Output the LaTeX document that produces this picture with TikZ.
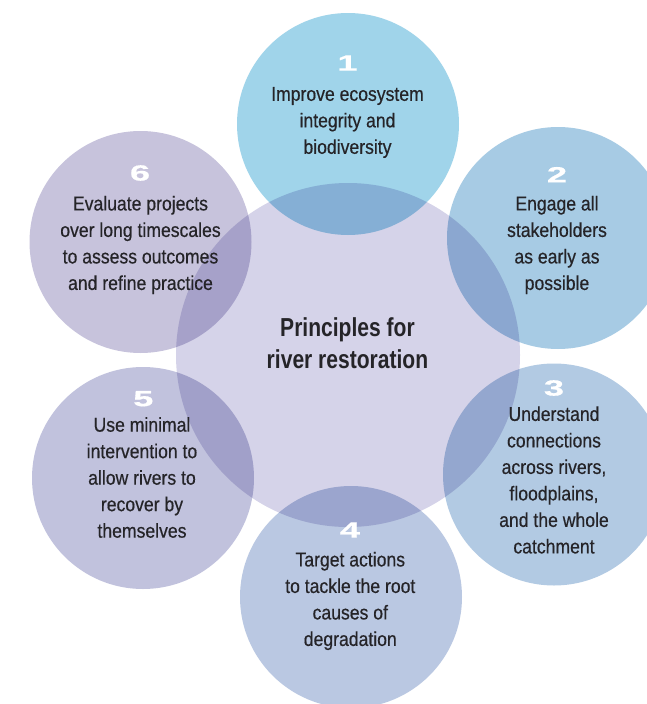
\documentclass[tikz,border=0pt]{standalone}
\usepackage{fontspec}
\setmainfont{Liberation Sans}[FakeStretch=0.88, FakeBold=0.45]
\newfontfamily\titlefont{Liberation Sans}[FakeStretch=0.81]
\newfontfamily\numfont{Liberation Sans}[FakeStretch=1.65, FakeBold=0.6]
\definecolor{ccen}{HTML}{D5D3E9}
\definecolor{cone}{HTML}{A0D4EA}
\definecolor{ctwo}{HTML}{A7CBE4}
\definecolor{cthree}{HTML}{B2CAE3}
\definecolor{cfour}{HTML}{BAC8E2}
\definecolor{cfive}{HTML}{C1C2DD}
\definecolor{csix}{HTML}{C7C3DC}
\definecolor{txt}{HTML}{252428}
\tikzset{
  disc/.style={circle, draw=none, inner sep=0pt, minimum size=222pt},
  bigdisc/.style={circle, draw=none, inner sep=0pt, minimum size=344pt},
  lbl/.style={align=center, inner sep=0pt, text=txt, font=\fontsize{20}{26.5}\selectfont},
  num/.style={inner sep=0pt, text=white, font=\numfont\bfseries\fontsize{22}{24}\selectfont},
  ttl/.style={align=center, inner sep=0pt, text=txt, font=\titlefont\bfseries\fontsize{26}{32}\selectfont}
}
\begin{document}
\begin{tikzpicture}[x=1pt,y=-1pt]
\useasboundingbox (0,0) rectangle (647,704);
\fill[white] (0,0) rectangle (647,704);
\clip (0,0) rectangle (647,704);
\begin{scope}[blend mode=multiply]
\node[bigdisc, fill=ccen] (cen) at (348,355) {};
\node[disc, fill=cone] (c1) at (348,124) {};
\node[disc, fill=ctwo] (c2) at (558,238) {};
\node[disc, fill=cthree] (c3) at (554,474.5) {};
\node[disc, fill=cfour] (c4) at (351,597) {};
\node[disc, fill=cfive] (c5) at (143,478) {};
\node[disc, fill=csix] (c6) at (140.5,242) {};
\end{scope}
\node[ttl] (title) at (347.5,343) {Principles for\\river restoration};
\node[num] (n1) at (347.5,63) {1};
\node[lbl] (t1) at (347.5,122.5) {Improve ecosystem\\integrity and\\biodiversity};
\node[num] (n2) at (557,174.7) {2};
\node[lbl] (t2) at (557,245) {Engage all\\stakeholders\\as early as\\possible};
\node[num] (n3) at (554,388) {3};
\node[lbl] (t3) at (554,480) {Understand\\connections\\across rivers,\\floodplains,\\and the whole\\catchment};
\node[num] (n4) at (350,530) {4};
\node[lbl] (t4) at (350.3,601) {Target actions\\to tackle the root\\causes of\\degradation};
\node[num] (n5) at (143.3,398.7) {5};
\node[lbl] (t5) at (142,477.5) {Use minimal\\intervention to\\allow rivers to\\recover by\\themselves};
\node[num] (n6) at (140,173) {6};
\node[lbl] (t6) at (140.5,245) {Evaluate projects\\over long timescales\\to assess outcomes\\and refine practice};
\end{tikzpicture}
\end{document}
